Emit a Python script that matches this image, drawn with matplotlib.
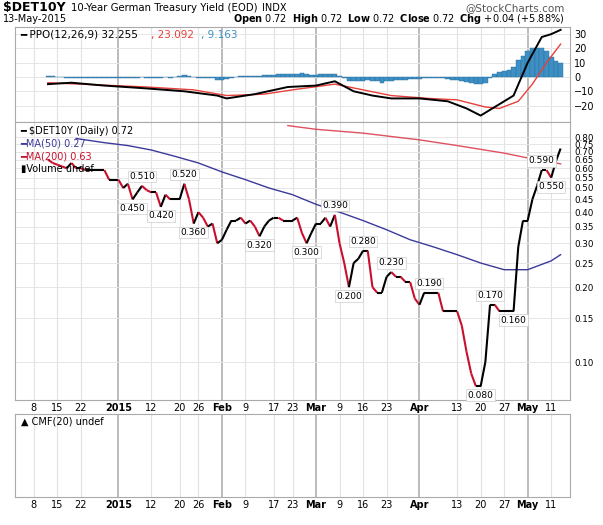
import matplotlib
import numpy as np
import pandas as pd

matplotlib.use("Agg")
import matplotlib.pyplot as plt
from matplotlib.collections import LineCollection
from matplotlib.ticker import FixedLocator, NullLocator

# ---- data ----
price_start = "2014-12-11"
price_end = "2015-05-13"
closes = [
    0.65, 0.63,
    0.62, 0.61, 0.60, 0.63, 0.60,
    0.60, 0.59, 0.59, 0.59, 0.59,
    0.59, 0.54, 0.54, 0.54, 0.50,
    0.52, 0.45, 0.48, 0.51, 0.49,
    0.48, 0.48, 0.42, 0.47, 0.45,
    0.45, 0.45, 0.52, 0.45, 0.36,
    0.40, 0.38, 0.35, 0.36, 0.30,
    0.31, 0.34, 0.37, 0.37, 0.38,
    0.36, 0.37, 0.35, 0.32, 0.35,
    0.37, 0.38, 0.38, 0.37, 0.37,
    0.37, 0.38, 0.33, 0.30, 0.33,
    0.36, 0.36, 0.38, 0.35, 0.39,
    0.30, 0.25, 0.20, 0.25, 0.26,
    0.28, 0.28, 0.20, 0.19, 0.19,
    0.22, 0.23, 0.22, 0.22, 0.21,
    0.21, 0.18, 0.17, 0.19, 0.19,
    0.19, 0.19, 0.16, 0.16, 0.16,
    0.16, 0.14, 0.11, 0.09, 0.08,
    0.08, 0.10, 0.17, 0.17, 0.16,
    0.16, 0.16, 0.16, 0.29, 0.37,
    0.37, 0.45, 0.51, 0.59, 0.59,
    0.55, 0.64, 0.72,
]
ppo_hist = [
    0.5, 0.5,
    0.3, 0, -0.5, -0.5, -0.5,
    -0.5, -0.5, -0.5, -0.5, -0.5,
    -1, -1, -1, -1, -1,
    -1, -0.5, -0.5, 0, -0.5,
    -0.5, -0.5, -1, 0, -0.5,
    0, 0.5, 1.5, 1, 0,
    -0.5, -1, -1, -1, -2,
    -2, -1.5, -0.5, 0, 0.5,
    0.8, 1, 1, 1, 1.2,
    1.5, 1.5, 2, 2, 2,
    2, 2.2, 2.5, 2, 1.5,
    1.5, 1.8, 2, 2, 2.2,
    1, -1, -3, -3, -3,
    -2.5, -2, -3, -3, -4,
    -3, -2.5, -2, -2, -2,
    -1.5, -1.5, -1.5, -1, -0.5,
    -0.5, -0.5, -1, -1.5, -2,
    -2, -2.5, -3.5, -4.5, -5,
    -5, -4, -1, 2, 3.5,
    4.5, 5, 7, 12, 15,
    18, 20, 20, 20, 18,
    14, 11, 10,
]
ppo_dates = ["2014-12-11", "2014-12-18", "2014-12-29", "2015-01-09", "2015-01-21", "2015-01-30",
             "2015-02-03", "2015-02-11", "2015-02-20", "2015-03-02", "2015-03-06", "2015-03-12",
             "2015-03-18", "2015-03-24", "2015-04-01", "2015-04-09", "2015-04-15", "2015-04-20",
             "2015-04-22", "2015-04-29", "2015-05-04", "2015-05-07", "2015-05-11", "2015-05-13"]
ppo_line = [-5, -4, -6, -8, -10, -13, -15, -12, -7, -6, -3, -10,
            -13, -15, -15, -17, -22, -27, -23, -13, 10, 28, 30, 33]
signal_dates = ["2014-12-11", "2014-12-22", "2015-01-09", "2015-01-23", "2015-02-03", "2015-02-13",
                "2015-02-23", "2015-03-06", "2015-03-16", "2015-03-24", "2015-04-03", "2015-04-13",
                "2015-04-21", "2015-04-24", "2015-04-30", "2015-05-05", "2015-05-08", "2015-05-13"]
signal_line = [-4, -5, -7, -9, -13, -12, -9, -5, -9, -13, -15, -16, -21, -22, -17, -5, 10, 23]
ma50_dates = ["2014-12-19", "2014-12-29", "2015-01-05", "2015-01-12", "2015-01-19", "2015-01-26",
              "2015-02-02", "2015-02-09", "2015-02-16", "2015-02-23", "2015-03-02", "2015-03-09",
              "2015-03-16", "2015-03-23", "2015-03-30", "2015-04-06", "2015-04-13", "2015-04-20",
              "2015-04-27", "2015-05-04", "2015-05-11", "2015-05-13"]
ma50 = [0.79, 0.76, 0.74, 0.71, 0.67, 0.63, 0.58, 0.54, 0.50, 0.47, 0.43, 0.40,
        0.37, 0.34, 0.31, 0.29, 0.27, 0.25, 0.235, 0.235, 0.255, 0.27]
ma200_dates = ["2015-02-20", "2015-03-02", "2015-03-16", "2015-04-01", "2015-04-13",
               "2015-04-27", "2015-05-04", "2015-05-13"]
ma200 = [0.89, 0.86, 0.83, 0.78, 0.74, 0.69, 0.66, 0.625]
labels_hi = {"2015-01-08": "0.510", "2015-01-21": "0.520", "2015-03-06": "0.390", "2015-03-16": "0.280",
             "2015-03-24": "0.230", "2015-04-03": "0.190", "2015-04-22": "0.170", "2015-05-07": "0.590"}
labels_lo = {"2015-01-06": "0.450", "2015-01-14": "0.420", "2015-01-23": "0.360", "2015-02-12": "0.320",
             "2015-02-26": "0.300", "2015-03-11": "0.200", "2015-04-20": "0.080", "2015-04-29": "0.160",
             "2015-05-11": "0.550"}
tick_dates = ["2014-12-08", "2014-12-15", "2014-12-22", "2015-01-01", "2015-01-12", "2015-01-20",
              "2015-01-26", "2015-02-02", "2015-02-09", "2015-02-17", "2015-02-23", "2015-03-02",
              "2015-03-09", "2015-03-16", "2015-03-23", "2015-04-01", "2015-04-13", "2015-04-20",
              "2015-04-27", "2015-05-04", "2015-05-11"]
tick_labels = ["8", "15", "22", "2015", "12", "20", "26", "Feb", "9", "17", "23", "Mar",
               "9", "16", "23", "Apr", "13", "20", "27", "May", "11"]
price_ticks = [0.10, 0.15, 0.20, 0.25, 0.30, 0.35, 0.40, 0.45, 0.50, 0.55, 0.60, 0.65, 0.70, 0.75, 0.80]

ORIGIN = pd.Timestamp("2014-12-08")


def pos(d):
    return float(np.busday_count(ORIGIN.date(), pd.Timestamp(d).date()))


days = pd.bdate_range(price_start, price_end)
xs = np.array([pos(d) for d in days])
closes = np.array(closes)
tick_x = [pos(d) for d in tick_dates]
bold = {"2015", "Feb", "Mar", "Apr", "May"}

W, H = 603, 525
fig = plt.figure(figsize=(W / 100, H / 100), dpi=100)
plt.rcParams["font.family"] = ["DejaVu Sans"]


def make_ax(top, bottom):
    ax = fig.add_axes([15 / W, 1 - bottom / H, 555 / W, (bottom - top) / H])
    ax.set_xlim(-4, 114)
    for x, lab in zip(tick_x, tick_labels):
        ax.axvline(x, color="#b0b0b0" if lab in bold else "#e2e2e2", lw=1.2 if lab in bold else 0.8, zorder=0)
    ax.xaxis.set_major_locator(FixedLocator(tick_x))
    ax.set_xticklabels(tick_labels, fontsize=7)
    for t in ax.get_xticklabels():
        if t.get_text() in bold:
            t.set_fontweight("bold")
    ax.tick_params(axis="x", length=0, pad=2)
    ax.yaxis.tick_right()
    ax.tick_params(axis="y", length=0, labelsize=7, pad=3)
    for s in ax.spines.values():
        s.set_color("#aaaaaa")
        s.set_linewidth(0.8)
    return ax


# PPO panel
ax1 = make_ax(27, 122)
ax1.set_ylim(-31.5, 35)
ax1.set_yticks([-20, -10, 0, 10, 20, 30])
ax1.set_xticklabels([])
for y in [-20, -10, 0, 10, 20, 30]:
    ax1.axhline(y, color="#e6e6e6", lw=0.7, zorder=0)
ax1.bar(xs, ppo_hist, width=1.0, color="#3d8fc4", edgecolor="#2a6e9c", linewidth=0.3, zorder=2)
ax1.plot([pos(d) for d in signal_dates], signal_line, color="#e8403a", lw=1.0, zorder=3)
ax1.plot([pos(d) for d in ppo_dates], ppo_line, color="black", lw=1.4, zorder=4)
ax1.text(0.01, 0.97, "━ PPO(12,26,9) 32.255", transform=ax1.transAxes, fontsize=7.5, va="top")
ax1.text(0.245, 0.97, ", 23.092", color="#e8403a", transform=ax1.transAxes, fontsize=7.5, va="top")
ax1.text(0.335, 0.97, ", 9.163", color="#3d8fc4", transform=ax1.transAxes, fontsize=7.5, va="top")

# price panel
ax2 = make_ax(122, 400)
ax2.set_yscale("log")
ax2.set_ylim(0.0705, 0.92)
ax2.yaxis.set_major_locator(FixedLocator(price_ticks))
ax2.yaxis.set_minor_locator(NullLocator())
ax2.set_yticklabels([f"{v:.2f}" for v in price_ticks])
ax2.tick_params(axis="y", labelsize=6.3)
for y in price_ticks:
    ax2.axhline(y, color="#e6e6e6", lw=0.7, zorder=0)
ax2.plot([pos(d) for d in ma50_dates], ma50, color="#3a3a9a", lw=1.0, zorder=2)
ax2.plot([pos(d) for d in ma200_dates], ma200, color="#e05060", lw=1.0, zorder=2)
segs = [[(xs[i], closes[i]), (xs[i + 1], closes[i + 1])] for i in range(len(xs) - 1)]
cols = ["black" if closes[i + 1] >= closes[i] else "#c8102e" for i in range(len(xs) - 1)]
ax2.add_collection(LineCollection(segs, colors=cols, linewidths=1.5, zorder=3))
box = dict(boxstyle="square,pad=0.15", fc="white", ec="#cccccc", lw=0.5)
for d, t in labels_hi.items():
    ax2.text(pos(d), float(t) * 1.09, t, ha="center", va="center", fontsize=6.5, bbox=box, zorder=5)
for d, t in labels_lo.items():
    ax2.text(pos(d), float(t) * 0.92, t, ha="center", va="center", fontsize=6.5, bbox=box, zorder=5)
ax2.text(0.01, 0.985, "━ $DET10Y (Daily) 0.72", transform=ax2.transAxes, fontsize=7, va="top")
ax2.text(0.01, 0.94, "━MA(50) 0.27", color="#3a3a9a", transform=ax2.transAxes, fontsize=7, va="top")
ax2.text(0.01, 0.895, "━MA(200) 0.63", color="#c8102e", transform=ax2.transAxes, fontsize=7, va="top")
ax2.text(0.01, 0.85, "▮Volume undef", transform=ax2.transAxes, fontsize=7, va="top")

# CMF panel
ax3 = make_ax(414, 497)
ax3.set_ylim(0, 1)
ax3.set_yticks([])
ax3.text(0.01, 0.97, "▲ CMF(20) undef", transform=ax3.transAxes, fontsize=7, va="top")

# header
fig.text(3 / W, 1 - 8 / H, "$DET10Y", fontsize=9, fontweight="bold", va="center")
fig.text(71 / W, 1 - 8 / H, "10-Year German Treasury Yield (EOD)", fontsize=7.3, va="center")
fig.text(262 / W, 1 - 8 / H, "INDX", fontsize=7, va="center")
fig.text(565 / W, 1 - 8 / H, "@StockCharts.com", fontsize=7.5, va="center", ha="right", color="#555555")
fig.text(3 / W, 1 - 19 / H, "13-May-2015", fontsize=7, va="center")
fig.text(565 / W, 1 - 19 / H,
         r"$\bf{Open}$ 0.72  $\bf{High}$ 0.72  $\bf{Low}$ 0.72  $\bf{Close}$ 0.72  $\bf{Chg}$ +0.04 (+5.88%)",
         fontsize=7, va="center", ha="right")

fig.savefig("out.png", dpi=100)
